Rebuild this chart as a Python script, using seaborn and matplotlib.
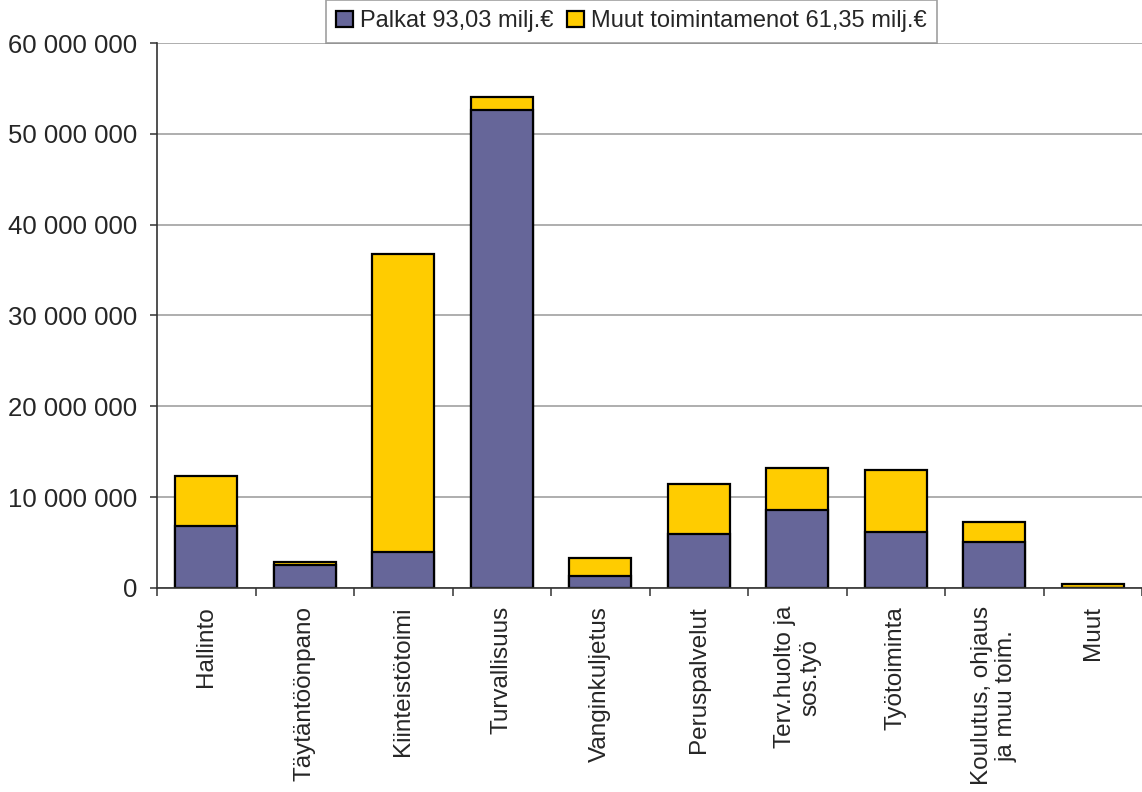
import pandas as pd
import matplotlib.pyplot as plt
import matplotlib.ticker as mticker
import seaborn as sns

# Data (euros)
categories = ["Hallinto", "Täytäntöönpano", "Kiinteistötoimi", "Turvallisuus",
              "Vanginkuljetus", "Peruspalvelut", "Terv.huolto ja\nsos.työ",
              "Työtoiminta", "Koulutus, ohjaus\nja muu toim.", "Muut"]
palkat = [6830000, 2580000, 3960000, 52600000, 1320000,
          5950000, 8590000, 6170000, 5070000, 0]
muut = [5540000, 270000, 32800000, 1500000, 2000000,
        5540000, 4610000, 6860000, 2230000, 440000]
ticks = [0, 10000000, 20000000, 30000000, 40000000, 50000000, 60000000]
legend_labels = ["Palkat 93,03 milj.€", "Muut toimintamenot 61,35 milj.€"]

df = pd.DataFrame({"kategoria": categories, "palkat": palkat, "muut": muut})
df["yht"] = df["palkat"] + df["muut"]

sns.set_theme(style="white")
plt.rcParams["font.family"] = ["Liberation Sans", "DejaVu Sans"]

fig = plt.figure(figsize=(11.42, 7.92), dpi=100)
ax = fig.add_axes([0.1375, 0.2576, 0.8625, 0.6881])

purple = "#666699"
yellow = "#FFCC00"

sns.barplot(data=df, x="kategoria", y="yht", color=yellow, saturation=1,
            width=0.63, edgecolor="black", linewidth=1.6, ax=ax,
            label=legend_labels[1])
sns.barplot(data=df, x="kategoria", y="palkat", color=purple, saturation=1,
            width=0.63, edgecolor="black", linewidth=1.6, ax=ax,
            label=legend_labels[0])
handles, labels = ax.get_legend_handles_labels()
if ax.get_legend() is not None:
    ax.get_legend().remove()

ax.set_ylim(0, 60000000)
ax.set_xlim(-0.5, len(categories) - 0.5)
ax.set_yticks(ticks)
ax.yaxis.set_major_formatter(mticker.FuncFormatter(lambda v, p: f"{v:,.0f}".replace(",", " ")))
ax.set_xlabel("")
ax.set_ylabel("")

ax.grid(axis="y", color="#999999", linewidth=1.1)
ax.set_axisbelow(True)
for s in ["top", "right"]:
    ax.spines[s].set_visible(False)
ax.spines["left"].set_color("#333333")
ax.spines["bottom"].set_color("#333333")
ax.spines["left"].set_linewidth(1.2)
ax.spines["bottom"].set_linewidth(1.2)

ax.tick_params(axis="y", length=5, width=1.1, color="#333333", labelsize=18.5, pad=9, left=True)
ax.set_xticks(range(len(categories)))
ax.set_xticklabels(categories, rotation=90, ha="center", va="top", multialignment="center")
ax.tick_params(axis="x", which="major", length=0, labelsize=17.5, pad=13)
ax.set_xticks([i - 0.5 for i in range(len(categories) + 1)], minor=True)
ax.tick_params(axis="x", which="minor", length=6, width=1.1, color="#333333", bottom=True)

leg = fig.legend(handles[::-1], labels[::-1], loc="lower center",
                 bbox_to_anchor=(0.553, 0.9457), ncol=2, fontsize=17,
                 frameon=True, fancybox=False, edgecolor="#888888",
                 handlelength=0.7, handleheight=0.7, handletextpad=0.3,
                 columnspacing=0.6, borderpad=0.45, borderaxespad=0)
leg.get_frame().set_linewidth(1.2)

fig.savefig("out.png", dpi=100)
